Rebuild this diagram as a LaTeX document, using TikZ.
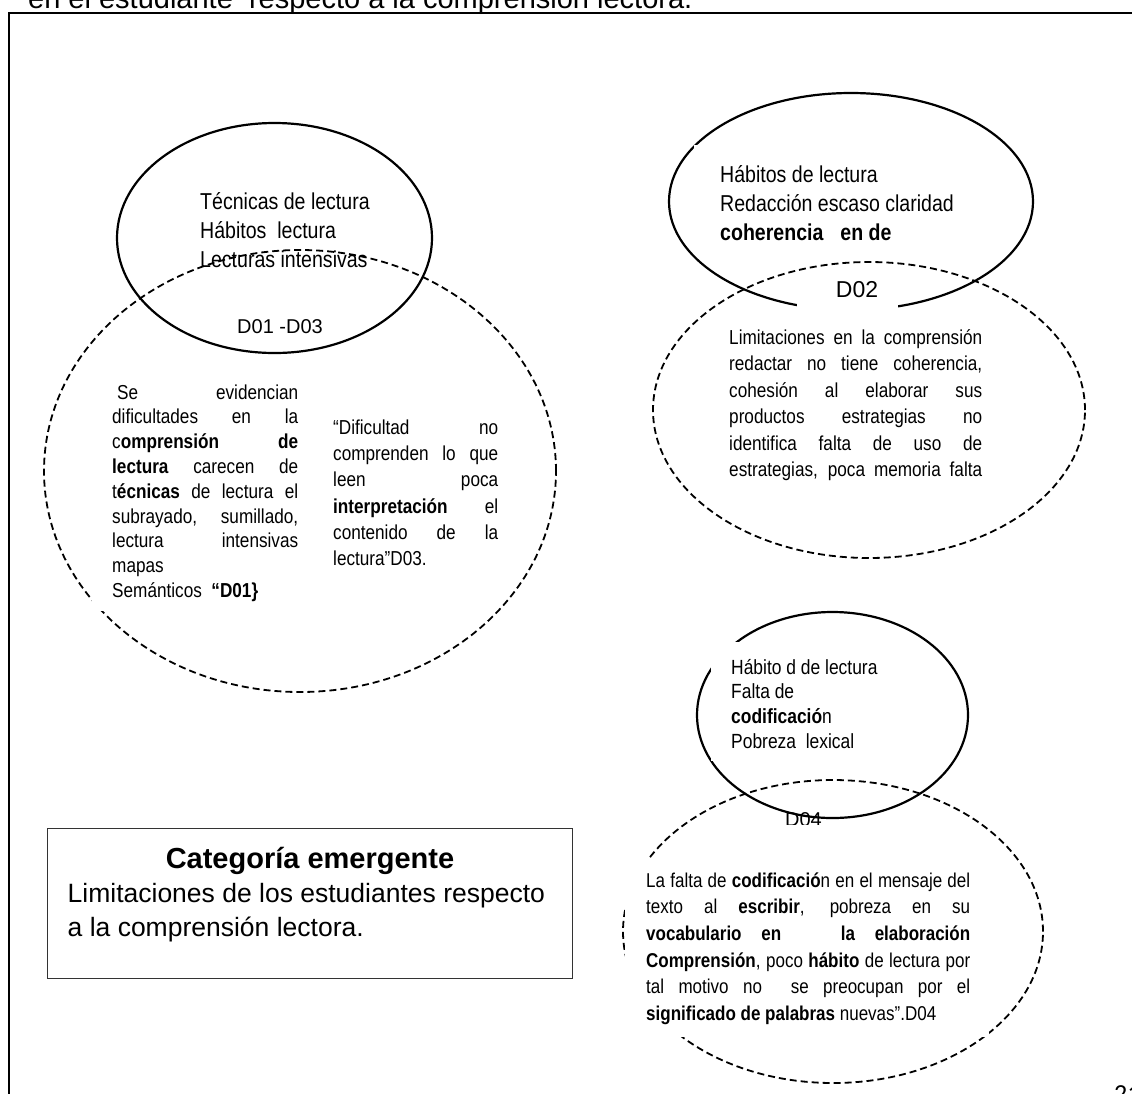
\documentclass[tikz,border=0pt]{standalone}
\usepackage{fontspec}
\setmainfont{Liberation Sans}
\newfontfamily\narrow[FakeStretch=0.85]{Liberation Sans}
\newfontfamily\calib{Carlito}
\newcommand\J[2]{\makebox[#1][s]{#2}}
\begin{document}
\begin{tikzpicture}[x=1pt,y=-1pt,
  solidell/.style={line width=2.2pt},
  dashell/.style={line width=1.8pt,dash pattern=on 7pt off 4pt},
  mask/.style={fill=white},
  blk/.style={inner sep=0pt,anchor=north west,align=left},
  smalltxt/.style={font=\narrow\fontsize{20.2}{24.8}\selectfont},
  midtxt/.style={font=\narrow\fontsize{23}{29}\selectfont},
  lbltxt/.style={inner sep=0pt}
]
\useasboundingbox (0,0) rectangle (1132,1093);
\clip (0,0) rectangle (1132,1093);

% frame and cut heading
\coordinate (fr1) at (1140,13);
\coordinate (fr2) at (9,13);
\coordinate (fr3) at (9,1100);
\draw[line width=2.4pt] (fr1) -- (fr2) -- (fr3);
\node[anchor=base west,inner sep=0pt,font=\fontsize{29}{34}\selectfont] (cut) at (28,8) {en el estudiante\ \ respecto a la comprensión lectora.};

% solid ellipses
\coordinate (c1) at (274.5,238);
\coordinate (c2) at (851,201.5);
\coordinate (c3) at (832.5,715);
\draw[solidell] (c1) ellipse [x radius=157.5pt, y radius=115pt];
\draw[solidell] (c2) ellipse [x radius=182pt, y radius=108.5pt];
\draw[solidell] (c3) ellipse [x radius=135.5pt, y radius=103pt];

% white text boxes over solid ellipses
\fill[mask] (694,145) rectangle (975,250);
\fill[mask] (797,272) rectangle (898,313);
\fill[mask] (710.5,642) rectangle (900,761);

% texts of solid ellipses
\node[blk,midtxt] (t1) at (200,189) {\strut Técnicas de lectura\\Hábitos\ \ lectura\\Lecturas intensivas};
\node[lbltxt,font=\fontsize{20}{24}\selectfont] (l1) at (280,327) {D01 -D03};
\node[blk,midtxt] (t2) at (720,162) {\strut Hábitos de lectura\\Redacción escaso claridad\\\textbf{coherencia\hspace{17pt}en de}};
\node[lbltxt,font=\fontsize{23}{27}\selectfont] (l2) at (857,290) {D02};
\node[blk,smalltxt,font=\narrow\fontsize{20.5}{24.7}\selectfont] (t3) at (731,656.7) {\strut Hábito d de lectura\\Falta de\\\textbf{codificació}n\\Pobreza\ \ lexical};
\begin{scope}
\clip (760,800) rectangle (860,824.5);
\node[anchor=base,inner sep=0pt,font=\fontsize{20}{24}\selectfont] (l3) at (803.5,826.5) {D04};
\end{scope}

% dashed ellipses
\coordinate (d1) at (300,471);
\coordinate (d2) at (869,410);
\coordinate (d3) at (833,931.5);
\draw[dashell] (d1) ellipse [x radius=256pt, y radius=221pt];
\draw[dashell] (d2) ellipse [x radius=216pt, y radius=148pt];
\draw[dashell] (d3) ellipse [x radius=210pt, y radius=151.5pt];

% white text boxes over dashed ellipses
\fill[mask] (92,375) rectangle (305,611);
\fill[mask] (625,858) rectangle (989,1037);

% texts of dashed ellipses
\node[blk,smalltxt] (p1) at (112,381.6) {\strut\J{186pt}{\hspace{5pt}Se evidencian}\\
\J{186pt}{dificultades en la}\\
\J{186pt}{c\textbf{omprensión de}}\\
\J{186pt}{\textbf{lectura} carecen de}\\
\J{186pt}{t\textbf{écnicas} de lectura el}\\
\J{186pt}{subrayado, sumillado,}\\
\J{186pt}{lectura intensivas}\\
mapas\\
Semánticos\ \ \textbf{“D01\}}};
\node[blk,smalltxt,font=\narrow\fontsize{20.2}{26.3}\selectfont] (p2) at (333,415.6) {\strut\J{165pt}{“Dificultad no}\\
\J{165pt}{comprenden lo que}\\
\J{165pt}{leen poca}\\
\J{165pt}{\textbf{interpretación} el}\\
\J{165pt}{contenido de la}\\
lectura”D03.};
\node[blk,smalltxt,font=\narrow\fontsize{20.2}{26.5}\selectfont] (p3) at (729,325.5) {\strut\J{253pt}{Limitaciones en la comprensión}\\
\J{253pt}{redactar no tiene coherencia,}\\
\J{253pt}{cohesión al elaborar sus}\\
\J{253pt}{productos estrategias no}\\
\J{253pt}{identifica falta de uso de}\\
\J{253pt}{estrategias, poca memoria falta}};
\node[blk,smalltxt,font=\narrow\fontsize{20}{26.6}\selectfont] (p4) at (646,868.4) {\strut\J{324pt}{La falta de \textbf{codificació}n en el mensaje del}\\
\J{324pt}{texto al \textbf{escribir}, pobreza en su}\\
\J{324pt}{\textbf{vocabulario en\ \ \ la elaboración}}\\
\J{324pt}{\textbf{Comprensión}, poco \textbf{hábito} de lectura por}\\
\J{324pt}{tal motivo no\ \ se preocupan por el}\\
\textbf{significado de palabras} nuevas”.D04};

% category box
\node[draw=black!80,line width=1.4pt,minimum width=525pt,minimum height=150.5pt,inner sep=0pt,anchor=north west] (cat) at (47,827.5) {};
\node[anchor=base,inner sep=0pt,font=\bfseries\fontsize{29}{34}\selectfont] (cattitle) at (310,868) {Categoría emergente};
\node[anchor=base west,inner sep=0pt,font=\fontsize{26.5}{33}\selectfont] (catl1) at (67.5,902.5) {Limitaciones de los estudiantes respecto};
\node[anchor=base west,inner sep=0pt,font=\fontsize{26.5}{33}\selectfont] (catl2) at (67.5,936) {a la comprensión lectora.};

% page number (cut)
\node[anchor=north west,inner sep=0pt,font=\calib\fontsize{26}{30}\selectfont] (pg) at (1114,1085) {21};
\end{tikzpicture}
\end{document}
